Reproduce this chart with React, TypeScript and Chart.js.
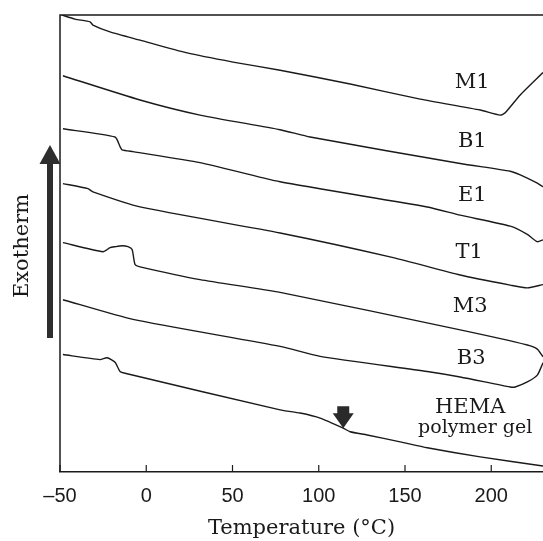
import React, { useEffect, useRef } from 'react';
import { Chart, registerables } from 'chart.js';

Chart.register(...registerables);

// Temperature axis ticks (°C)
const xTicks = [-50, 0, 50, 100, 150, 200];

// DSC curves: temperature (°C) and heat-flow signal (arbitrary units, offset per curve)
const m1Temp = [-49, -41.3, -32.6, -30.9, -21.0, -3.6, 23.7, 50.3, 77.6, 118.2, 158.8, 193.6, 205.2, 208.1, 216.8, 230];
const m1Flow = [100, 99.1, 98.5, 97.8, 96.3, 94.5, 91.7, 89.7, 87.9, 84.9, 81.6, 79.2, 78.1, 78.6, 82.5, 87.4];

const b1Temp = [-48.3, -3.6, 31.2, 77.6, 95.0, 182.0, 211.0, 216.8, 226.7, 230];
const b1Flow = [86.7, 81.4, 78.1, 74.9, 73.3, 67.5, 65.8, 65.0, 63.2, 62.4];

const e1Temp = [-48.3, -18.1, -15.2, -14.0, -7.7, 31.2, 77.6, 162.9, 182.0, 211.0, 220.9, 226.7, 230];
const e1Flow = [75.1, 73.3, 71.2, 70.5, 70.1, 67.7, 63.5, 58.0, 56.2, 53.8, 52.0, 50.4, 50.8];

const t1Temp = [-48.3, -33.8, -30.9, -3.6, 77.6, 143.2, 182.0, 211.0, 220.9, 230];
const t1Flow = [63.1, 62.0, 61.3, 58.0, 52.3, 46.9, 43.1, 40.9, 40.3, 41.0];

const m3Temp = [-48.3, -25.1, -21.0, -18.1, -14.0, -10.6, -8.2, -6.5, -3.6, 31.2, 77.6, 182.0, 220.9, 226.7, 230];
const m3Flow = [50.2, 48.2, 49.1, 49.3, 49.5, 49.3, 48.7, 45.4, 44.9, 42.1, 39.3, 31.1, 27.8, 26.9, 25.2];

const b3Temp = [-48.3, -7.7, 77.6, 100.8, 162.9, 182.0, 211.0, 213.9, 220.9, 226.7, 230];
const b3Flow = [37.7, 33.4, 27.5, 25.3, 22.0, 20.8, 18.6, 18.6, 19.7, 21.2, 23.9];

const hemaTemp = [-48.3, -26.8, -22.7, -18.1, -15.2, -12.3, 77.6, 89.2, 100.8, 114.2, 118.2, 128.1, 147.2, 162.9, 193.6, 230];
const hemaFlow = [25.7, 24.6, 25.0, 24.0, 22.0, 21.6, 13.6, 12.9, 11.8, 9.6, 8.8, 8.1, 6.6, 5.3, 3.3, 1.3];

// Curve labels
const labelText = ['M1', 'B1', 'E1', 'T1', 'M3', 'B3', 'HEMA', 'polymer gel'];
const labelTemp = [189, 189, 189, 187.2, 187.8, 188.4, 187.8, 190.7];
const labelFlow = [85.3, 72.2, 60.6, 48.1, 36.3, 24.9, 14.2, 9.6];
const labelSize = [21, 21, 21, 21, 21, 21, 21, 19];

// Glass-transition marker on HEMA polymer gel curve
const markerTemp = 114.2;
const markerFlow = 9.6;

const series = [
  { name: 'M1', t: m1Temp, f: m1Flow },
  { name: 'B1', t: b1Temp, f: b1Flow },
  { name: 'E1', t: e1Temp, f: e1Flow },
  { name: 'T1', t: t1Temp, f: t1Flow },
  { name: 'M3', t: m3Temp, f: m3Flow },
  { name: 'B3', t: b3Temp, f: b3Flow },
  { name: 'HEMA polymer gel', t: hemaTemp, f: hemaFlow },
];

const INK = '#1a1a1a';
const SERIF = '"DejaVu Serif", "Liberation Serif", serif';

const decorPlugin = {
  id: 'decor',
  afterDraw(chart: any) {
    const ctx = chart.ctx as CanvasRenderingContext2D;
    const { left, right, top, bottom } = chart.chartArea;
    const xs = chart.scales.x;
    const ys = chart.scales.y;
    ctx.save();
    // frame: top and left
    ctx.strokeStyle = INK;
    ctx.lineWidth = 1.5;
    ctx.beginPath();
    ctx.moveTo(left, bottom);
    ctx.lineTo(left, top);
    ctx.lineTo(right, top);
    ctx.stroke();
    // inward ticks
    ctx.lineWidth = 1.2;
    xTicks.forEach((v) => {
      const px = xs.getPixelForValue(v);
      ctx.beginPath();
      ctx.moveTo(px, bottom);
      ctx.lineTo(px, bottom - 7);
      ctx.stroke();
    });
    // curve labels
    ctx.fillStyle = INK;
    ctx.textAlign = 'center';
    ctx.textBaseline = 'middle';
    labelText.forEach((txt, i) => {
      ctx.font = `${labelSize[i]}px ${SERIF}`;
      ctx.fillText(txt, xs.getPixelForValue(labelTemp[i]), ys.getPixelForValue(labelFlow[i]));
    });
    // marker arrow
    const mx = xs.getPixelForValue(markerTemp);
    const my = ys.getPixelForValue(markerFlow);
    ctx.fillStyle = '#2a2a2a';
    ctx.beginPath();
    ctx.moveTo(mx - 6, my - 22);
    ctx.lineTo(mx + 6, my - 22);
    ctx.lineTo(mx + 6, my - 15);
    ctx.lineTo(mx + 10.5, my - 15);
    ctx.lineTo(mx, my);
    ctx.lineTo(mx - 10.5, my - 15);
    ctx.lineTo(mx - 6, my - 15);
    ctx.closePath();
    ctx.fill();
    // Exotherm arrow
    ctx.fillStyle = '#2e2e2e';
    ctx.fillRect(47, 160, 6, 178);
    ctx.beginPath();
    ctx.moveTo(50, 145);
    ctx.lineTo(60.5, 164);
    ctx.lineTo(39.5, 164);
    ctx.closePath();
    ctx.fill();
    // Exotherm label
    ctx.fillStyle = INK;
    ctx.font = `21px ${SERIF}`;
    ctx.translate(23, 246);
    ctx.rotate(-Math.PI / 2);
    ctx.textAlign = 'center';
    ctx.textBaseline = 'middle';
    ctx.fillText('Exotherm', 0, 0);
    ctx.restore();
  },
};

export default function App() {
  const ref = useRef<HTMLCanvasElement | null>(null);
  useEffect(() => {
    if (!ref.current) return;
    const chart = new Chart(ref.current, {
      type: 'scatter',
      data: {
        datasets: series.map((s) => ({
          label: s.name,
          data: s.t.map((t, i) => ({ x: t, y: s.f[i] })),
          showLine: true,
          borderColor: INK,
          borderWidth: 1.4,
          pointRadius: 0,
          tension: 0.2,
        })),
      },
      options: {
        animation: false,
        responsive: false,
        maintainAspectRatio: false,
        layout: { padding: { left: 60, top: 15, right: 0, bottom: 0 } },
        plugins: { legend: { display: false }, tooltip: { enabled: false } },
        scales: {
          x: {
            type: 'linear',
            min: -50,
            max: 230,
            position: 'bottom',
            afterBuildTicks: (s: any) => {
              s.ticks = xTicks.map((v) => ({ value: v }));
            },
            afterFit: (s: any) => {
              s.height = 69;
            },
            ticks: {
              font: { family: '"Liberation Sans", Arial, sans-serif', size: 20 },
              color: INK,
              padding: 12,
              maxRotation: 0,
              callback: (v: any) => (v < 0 ? '\u2013' + Math.abs(v) : String(v)),
            },
            grid: { display: true, drawOnChartArea: false, drawTicks: false },
            border: { display: true, color: INK, width: 1.5 },
            title: {
              display: true,
              text: 'Temperature (°C)',
              font: { family: SERIF, size: 21 },
              color: INK,
              padding: { top: 0, bottom: 0 },
            },
          },
          y: {
            type: 'linear',
            min: 0,
            max: 100,
            display: false,
          },
        },
      },
      plugins: [decorPlugin],
    });
    return () => chart.destroy();
  }, []);
  return (
    <div style={{ position: 'fixed', left: 0, top: 0, width: 543, height: 541, background: '#fff' }}>
      <canvas ref={ref} width={543} height={541} style={{ display: 'block' }} />
    </div>
  );
}
